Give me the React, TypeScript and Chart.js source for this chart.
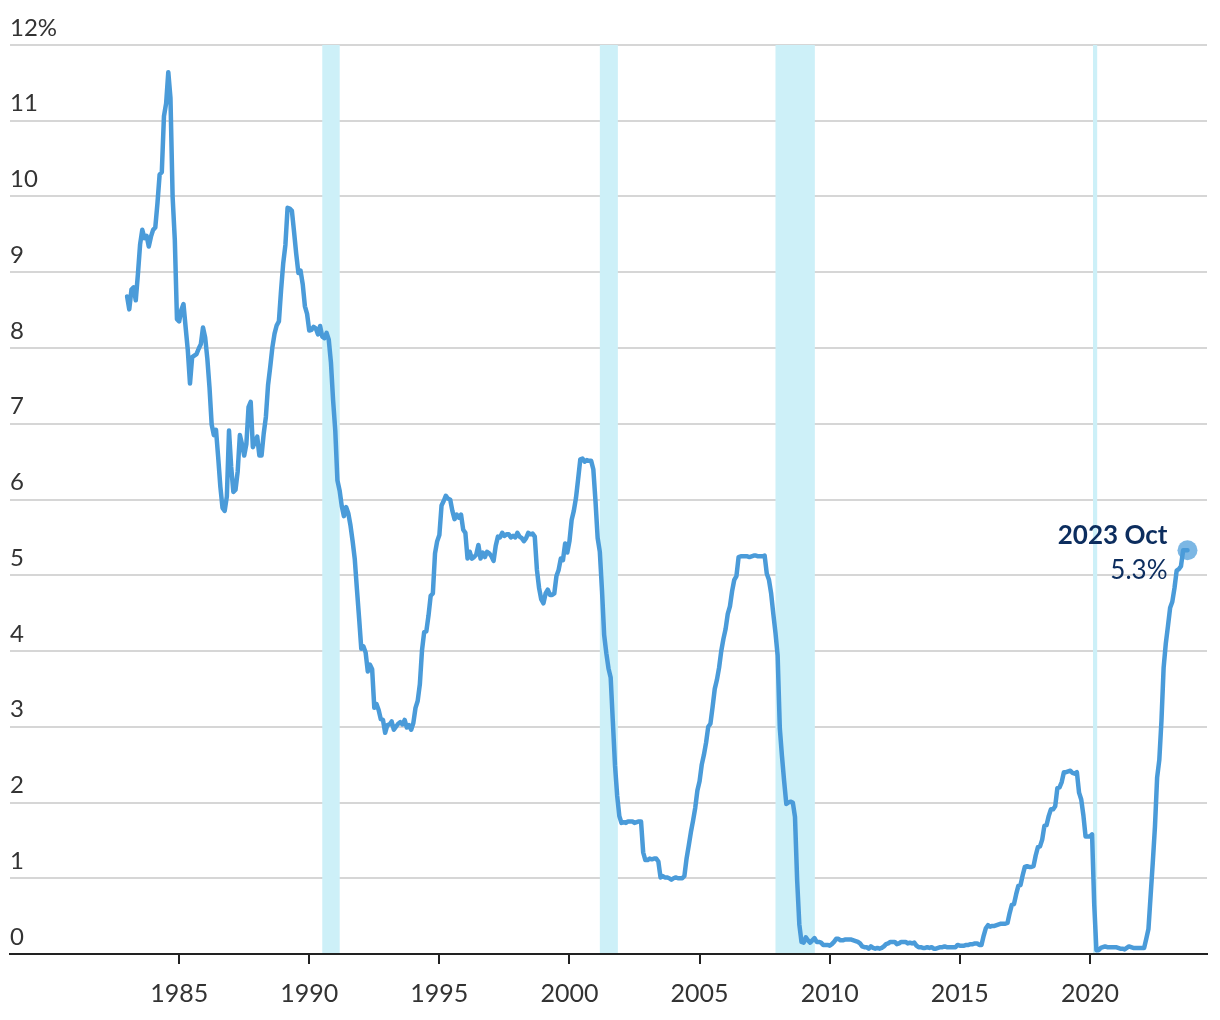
import React, { useEffect, useRef } from "react";
import { Chart, registerables } from "chart.js";

Chart.register(...registerables);

// Effective federal funds rate, monthly, starting January 1983 (percent)
const START_YEAR = 1983;
const rates1980s = [
  8.68, 8.51, 8.77, 8.8, 8.63, 8.98, 9.37, 9.56, 9.45, 9.48, 9.34, 9.47,
  9.56, 9.59, 9.91, 10.29, 10.32, 11.06, 11.23, 11.64, 11.3, 9.99, 9.43, 8.38,
  8.35, 8.5, 8.58, 8.27, 7.97, 7.53, 7.88, 7.9, 7.92, 7.99, 8.05, 8.27,
  8.14, 7.86, 7.48, 6.99, 6.85, 6.92, 6.56, 6.17, 5.89, 5.85, 6.04, 6.91,
  6.43, 6.1, 6.13, 6.37, 6.85, 6.73, 6.58, 6.73, 7.22, 7.29, 6.69, 6.77,
  6.83, 6.58, 6.58, 6.87, 7.09, 7.51, 7.75, 8.01, 8.19, 8.3, 8.35, 8.76,
  9.12, 9.36, 9.85, 9.84, 9.81, 9.53, 9.24, 8.99, 9.02, 8.84, 8.55, 8.45,
];
const rates1990s = [
  8.23, 8.24, 8.28, 8.26, 8.18, 8.29, 8.15, 8.13, 8.2, 8.11, 7.81, 7.31,
  6.91, 6.25, 6.12, 5.91, 5.78, 5.9, 5.82, 5.66, 5.45, 5.21, 4.81, 4.43,
  4.03, 4.06, 3.98, 3.73, 3.82, 3.76, 3.25, 3.3, 3.22, 3.1, 3.09, 2.92,
  3.02, 3.03, 3.07, 2.96, 3.0, 3.04, 3.06, 3.03, 3.09, 2.99, 3.02, 2.96,
  3.05, 3.25, 3.34, 3.56, 4.01, 4.25, 4.26, 4.47, 4.73, 4.76, 5.29, 5.45,
  5.53, 5.92, 5.98, 6.05, 6.01, 6.0, 5.85, 5.74, 5.8, 5.76, 5.8, 5.6,
  5.56, 5.22, 5.31, 5.22, 5.24, 5.27, 5.4, 5.22, 5.3, 5.24, 5.31, 5.29,
  5.25, 5.19, 5.39, 5.51, 5.5, 5.56, 5.52, 5.54, 5.54, 5.5, 5.52, 5.5,
  5.56, 5.51, 5.49, 5.45, 5.49, 5.56, 5.54, 5.55, 5.51, 5.07, 4.83, 4.68,
  4.63, 4.76, 4.81, 4.74, 4.74, 4.76, 4.99, 5.07, 5.22, 5.2, 5.42, 5.3,
];
const rates2000s = [
  5.45, 5.73, 5.85, 6.02, 6.27, 6.53, 6.54, 6.5, 6.52, 6.51, 6.51, 6.4,
  5.98, 5.49, 5.31, 4.8, 4.21, 3.97, 3.77, 3.65, 3.07, 2.49, 2.09, 1.82,
  1.73, 1.74, 1.73, 1.75, 1.75, 1.75, 1.73, 1.74, 1.75, 1.75, 1.34, 1.24,
  1.24, 1.26, 1.25, 1.26, 1.26, 1.22, 1.01, 1.03, 1.01, 1.01, 1.0, 0.98,
  1.0, 1.01, 1.0, 1.0, 1.0, 1.03, 1.26, 1.43, 1.61, 1.76, 1.93, 2.16,
  2.28, 2.5, 2.63, 2.79, 3.0, 3.04, 3.26, 3.5, 3.62, 3.78, 4.0, 4.16,
  4.29, 4.49, 4.59, 4.79, 4.94, 4.99, 5.24, 5.25, 5.25, 5.25, 5.25, 5.24,
  5.25, 5.26, 5.26, 5.25, 5.25, 5.25, 5.26, 5.02, 4.94, 4.76, 4.49, 4.24,
  3.94, 2.98, 2.61, 2.28, 1.98, 2.0, 2.01, 2.0, 1.81, 0.97, 0.39, 0.16,
  0.15, 0.22, 0.18, 0.15, 0.18, 0.21, 0.16, 0.16, 0.15, 0.12, 0.12, 0.12,
];
const rates2010s = [
  0.11, 0.13, 0.16, 0.2, 0.2, 0.18, 0.18, 0.19, 0.19, 0.19, 0.19, 0.18,
  0.17, 0.16, 0.14, 0.1, 0.09, 0.09, 0.07, 0.1, 0.08, 0.07, 0.08, 0.07,
  0.08, 0.1, 0.13, 0.14, 0.16, 0.16, 0.16, 0.13, 0.14, 0.16, 0.16, 0.16,
  0.14, 0.15, 0.14, 0.15, 0.11, 0.09, 0.09, 0.08, 0.08, 0.09, 0.08, 0.09,
  0.07, 0.07, 0.08, 0.09, 0.09, 0.1, 0.09, 0.09, 0.09, 0.09, 0.09, 0.12,
  0.11, 0.11, 0.11, 0.12, 0.12, 0.13, 0.13, 0.14, 0.14, 0.12, 0.12, 0.24,
  0.34, 0.38, 0.36, 0.37, 0.37, 0.38, 0.39, 0.4, 0.4, 0.4, 0.41, 0.54,
  0.65, 0.66, 0.79, 0.9, 0.91, 1.04, 1.15, 1.16, 1.15, 1.15, 1.16, 1.3,
  1.41, 1.42, 1.51, 1.69, 1.7, 1.82, 1.91, 1.91, 1.95, 2.19, 2.2, 2.27,
  2.4, 2.4, 2.41, 2.42, 2.39, 2.38, 2.4, 2.13, 2.04, 1.83, 1.55, 1.55,
];
const rates2020s = [
  1.55, 1.58, 0.65, 0.05, 0.05, 0.08, 0.09, 0.1, 0.09, 0.09, 0.09, 0.09,
  0.09, 0.08, 0.07, 0.07, 0.06, 0.08, 0.1, 0.09, 0.08, 0.08, 0.08, 0.08,
  0.08, 0.08, 0.2, 0.33, 0.77, 1.21, 1.68, 2.33, 2.56, 3.08, 3.78, 4.1,
  4.33, 4.57, 4.65, 4.83, 5.06, 5.08, 5.12, 5.33, 5.33, 5.33,
];

// Recessions (decimal years): start, end
const recessionStarts = [1990.5, 2001.167, 2007.917, 2020.12];
const recessionEnds = [1991.17, 2001.86, 2009.43, 2020.28];

const yearTicks = [1985, 1990, 1995, 2000, 2005, 2010, 2015, 2020];
const yTicks = [0, 1, 2, 3, 4, 5, 6, 7, 8, 9, 10, 11, 12];

const lastLabel = "2023 Oct";
const lastValueLabel = "5.3%";

const FONT = 'Lato, "Open Sans", "Noto Sans", sans-serif';
const LINE_COLOR = "#4a9bd9";
const NAVY = "#0c2d5e";

export default function App() {
  const ref = useRef<HTMLCanvasElement | null>(null);

  useEffect(() => {
    const canvas = ref.current;
    if (!canvas) return;
    const all = [...rates1980s, ...rates1990s, ...rates2000s, ...rates2010s, ...rates2020s];
    const points = all.map((v, i) => ({ x: START_YEAR + i / 12, y: v }));
    const last = points[points.length - 1];

    const recessionPlugin = {
      id: "recessions",
      beforeDatasetsDraw(chart: any) {
        const { ctx, chartArea, scales } = chart;
        ctx.save();
        ctx.fillStyle = "#cdf0f8";
        recessionStarts.forEach((s, i) => {
          const x0 = scales.x.getPixelForValue(s);
          const x1 = scales.x.getPixelForValue(recessionEnds[i]);
          ctx.fillRect(x0, chartArea.top, x1 - x0, chartArea.bottom - chartArea.top - 1);
        });
        ctx.restore();
      },
    };

    const annotationPlugin = {
      id: "lastAnnotation",
      afterDatasetsDraw(chart: any) {
        const meta = chart.getDatasetMeta(1);
        const pt = meta.data[0];
        if (!pt) return;
        const { ctx } = chart;
        ctx.save();
        ctx.fillStyle = NAVY;
        ctx.textAlign = "right";
        ctx.textBaseline = "middle";
        ctx.font = `bold 26px ${FONT}`;
        ctx.fillText(lastLabel, pt.x - 20, pt.y - 15);
        ctx.font = `26px ${FONT}`;
        ctx.fillText(lastValueLabel, pt.x - 20, pt.y + 20);
        ctx.restore();
      },
    };

    const chart = new Chart(canvas, {
      type: "line",
      data: {
        datasets: [
          {
            data: points,
            borderColor: LINE_COLOR,
            borderWidth: 4.5,
            pointRadius: 0,
            tension: 0,
            fill: false,
            borderJoinStyle: "round",
            borderCapStyle: "round",
          },
          {
            data: [last],
            borderColor: "rgba(0,0,0,0)",
            backgroundColor: "rgba(74,155,217,0.72)",
            pointRadius: 10,
            pointBorderWidth: 0,
            showLine: false,
          },
        ],
      },
      options: {
        responsive: false,
        animation: false,
        events: [],
        layout: { padding: { left: 10, right: 13, top: 45, bottom: 0 } },
        plugins: { legend: { display: false }, tooltip: { enabled: false } },
        scales: {
          x: {
            type: "linear",
            min: 1978.5,
            max: 2024.5,
            afterBuildTicks: (scale: any) => {
              scale.ticks = yearTicks.map((v) => ({ value: v }));
            },
            afterFit: (scale: any) => {
              scale.height = 66;
            },
            grid: {
              drawOnChartArea: false,
              drawTicks: true,
              tickLength: 10,
              color: "#222",
              lineWidth: 2,
            },
            border: { display: true, color: "#222", width: 2 },
            ticks: {
              autoSkip: false,
              maxRotation: 0,
              padding: 15,
              color: "#333",
              font: { family: FONT, size: 25 },
              callback: (v: any) => String(v),
            },
          },
          y: {
            min: 0,
            max: 12,
            afterBuildTicks: (scale: any) => {
              scale.ticks = yTicks.map((v) => ({ value: v }));
            },
            border: { display: false },
            grid: {
              drawTicks: false,
              lineWidth: 2,
              color: (c: any) => (c.tick && c.tick.value === 0 ? "rgba(0,0,0,0)" : "#d6d6d6"),
            },
            ticks: {
              mirror: true,
              padding: 0,
              labelOffset: -17,
              color: "#333",
              font: { family: FONT, size: 24 },
              callback: (v: any) => (v === 12 ? "12%" : String(v)),
            },
          },
        },
      },
      plugins: [recessionPlugin, annotationPlugin],
    } as any);

    return () => chart.destroy();
  }, []);

  return (
    <div style={{ position: "fixed", left: 0, top: 0, width: 1220, height: 1020, background: "#fff" }}>
      <canvas ref={ref} width={1220} height={1020} style={{ display: "block" }} />
    </div>
  );
}
